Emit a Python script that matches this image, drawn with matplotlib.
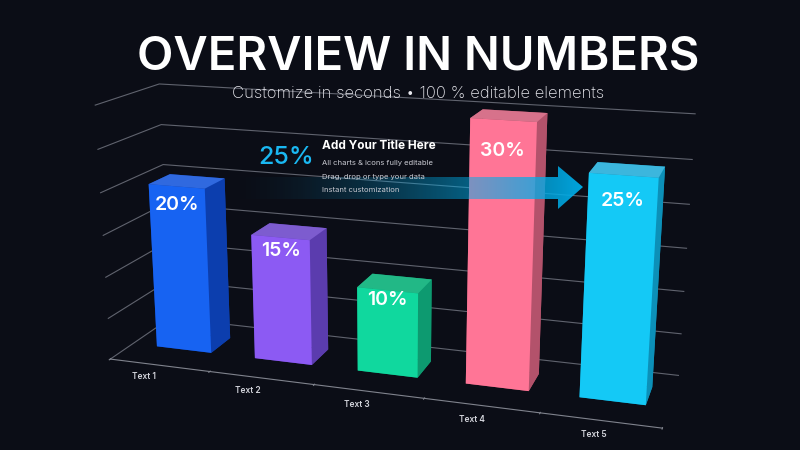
import numpy as np
import matplotlib
matplotlib.use("Agg")
import matplotlib.pyplot as plt
from matplotlib.patches import Polygon

# chart data
categories = ["Text 1", "Text 2", "Text 3", "Text 4", "Text 5"]
values = [20, 15, 10, 30, 25]
value_labels = ["20%", "15%", "10%", "30%", "25%"]
grid_levels = [0, 5, 10, 15, 20, 25, 30]

front_colors = ["#1763f2", "#8c5af3", "#10d89e", "#ff7596", "#14c9f6"]
top_colors = ["#3069df", "#7d5ccf", "#22b886", "#d7728b", "#3cb6dd"]
side_colors = ["#0c3eae", "#5b3cae", "#0d9a70", "#b3526b", "#0c90b8"]

BG = "#0b0d16"
plt.rcParams["font.family"] = ["Inter", "DejaVu Sans"]

fig = plt.figure(figsize=(8, 4.5), dpi=100, facecolor=BG)

ax = fig.add_axes([-0.02, -0.051, 1.0, 1.0], projection="3d")
ax.set_facecolor((0, 0, 0, 0))
ax.set_proj_type("persp", focal_length=0.55)
ax.view_init(elev=16, azim=-72, roll=0)
ax.set_box_aspect((5, 1.2, 2.35), zoom=1.39)
ax.set_xlim(0, 5)
ax.set_ylim(0, 1)
ax.set_zlim(0, 30)

for axis in (ax.xaxis, ax.yaxis, ax.zaxis):
    axis.set_pane_color((0, 0, 0, 0))
    axis.label.set_visible(False)
    axis.offsetText.set_visible(False)

ax.grid(True)
ax.xaxis._axinfo["grid"].update(linewidth=0, color=(0, 0, 0, 0))
ax.yaxis._axinfo["grid"].update(linewidth=0, color=(0, 0, 0, 0))
ax.zaxis._axinfo["grid"].update(linewidth=0.8, color="#60636e")

ax.yaxis.line.set_color((0, 0, 0, 0))
ax.zaxis.line.set_color((0, 0, 0, 0))
ax.xaxis.line.set_color("#80838d")
ax.xaxis.line.set_linewidth(0.8)

ax.set_xticks(range(len(categories) + 1))
ax.set_yticks([])
ax.set_zticks(grid_levels)
ax.tick_params(axis="x", colors="#80838d", labelbottom=False)
ax.tick_params(axis="z", colors=(0, 0, 0, 0), labelbottom=False)

# bars
n = len(values)
xs = np.arange(n) + 0.25
face_colors = []
for f, t, s in zip(front_colors, top_colors, side_colors):
    face_colors += [s, t, f, s, s, s]
bars = ax.bar3d(xs, np.full(n, 0.36), np.zeros(n), 0.56, 0.35, values,
                color=face_colors, shade=False)
bars.set_clip_on(False)

for i, (v, lab) in enumerate(zip(values, value_labels)):
    ax.text(xs[i] + 0.28, 0.36, v * 0.89, lab, ha="center", va="center",
            color="white", fontsize=14, fontweight="semibold", zorder=100)

for i, cat in enumerate(categories):
    ax.text(i + 0.5, -0.25, 0, cat, ha="center", va="center",
            color="#d4d5dc", fontsize=6, fontweight="semibold", zorder=100)

# overlay for titles and the callout arrow
ov = fig.add_axes([0, 0, 1, 1])
ov.set_xlim(0, 800)
ov.set_ylim(450, 0)
ov.axis("off")
ov.patch.set_alpha(0)

arrow = Polygon([(228, 177), (558, 177), (558, 166), (583, 187),
                 (558, 209), (558, 199), (228, 199)], closed=True,
                facecolor="none", edgecolor="none")
ov.add_patch(arrow)
ramp = np.linspace(0, 1, 400) ** 1.6
grad = np.zeros((1, 400, 4))
grad[..., 0] = 0.0
grad[..., 1] = 0.68
grad[..., 2] = 0.91
grad[..., 3] = ramp * 0.95
im = ov.imshow(grad, extent=(228, 583, 209, 166), aspect="auto",
               interpolation="bilinear")
im.set_clip_path(arrow)

fig.text(0.523, 0.873, "OVERVIEW IN NUMBERS", ha="center", va="center",
         color="white", fontsize=34, fontweight="semibold")
fig.text(0.5225, 0.793, "Customize in seconds \u2022 100 % editable elements",
         ha="center", va="center", color="#e8e8ee", fontsize=12, fontweight="light")

ov.text(258, 157, "25%", ha="left", va="center", color="#1ab8f2",
        fontsize=18, fontweight="medium")
ov.text(322, 146, "Add Your Title Here", ha="left", va="center",
        color="white", fontsize=8.5, fontweight="bold")
for k, line in enumerate(["All charts & icons fully editable",
                          "Drag, drop or type your data",
                          "Instant customization"]):
    ov.text(322, 163 + 13.5 * k, line, ha="left", va="center",
            color="#c9cad2", fontsize=5.5)

fig.savefig("out.png", dpi=100, facecolor=BG)
